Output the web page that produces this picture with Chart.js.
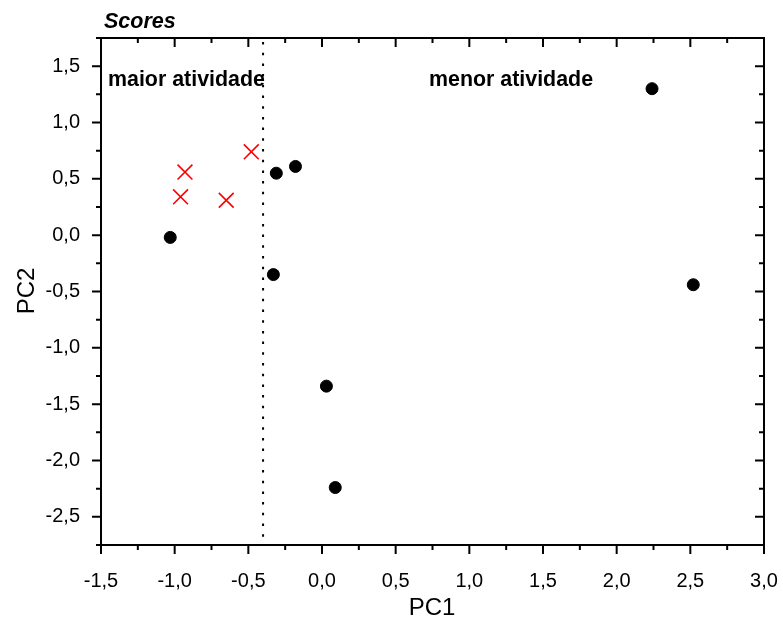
<!DOCTYPE html>
<html>
<head>
<meta charset="utf-8">
<script src="https://cdn.jsdelivr.net/npm/chart.js@4.4.0/dist/chart.umd.min.js"></script>
<style>
  html, body { margin: 0; padding: 0; background: #fff; }
  #wrap { width: 783px; height: 624px; }
</style>
</head>
<body>
<div id="wrap"><canvas id="grafico"></canvas></div>
<script>
// dados (PC1, PC2)
const pontosPretosX = [-1.03, -0.31, -0.18, -0.33, 0.03, 0.09, 2.24, 2.52];
const pontosPretosY = [-0.02, 0.55, 0.61, -0.35, -1.34, -2.24, 1.30, -0.44];
const cruzesX = [-0.48, -0.93, -0.96, -0.65];
const cruzesY = [0.74, 0.56, 0.34, 0.31];

const xTicks = [-1.5, -1.0, -0.5, 0.0, 0.5, 1.0, 1.5, 2.0, 2.5, 3.0];
const yTicks = [-2.5, -2.0, -1.5, -1.0, -0.5, 0.0, 0.5, 1.0, 1.5];
const limiteX = -0.4;

const fonte = "'Liberation Sans', Arial, sans-serif";

function virgula(v) {
    return v.toFixed(1).replace('.', ',');
}

// plugin para desenhar ticks, borda, linha pontilhada e textos
const extras = {
    id: 'extras',
    afterDraw(chart) {
        const ctx = chart.ctx;
        const a = chart.chartArea;
        const sx = chart.scales.x;
        const sy = chart.scales.y;
        ctx.save();

        // linha pontilhada
        const px = sx.getPixelForValue(limiteX);
        ctx.strokeStyle = '#000';
        ctx.lineWidth = 2;
        ctx.setLineDash([2.5, 8.2]);
        ctx.beginPath();
        ctx.moveTo(px, a.top + 4);
        ctx.lineTo(px, a.bottom);
        ctx.stroke();
        ctx.setLineDash([]);

        // borda
        ctx.lineWidth = 2;
        ctx.strokeRect(a.left, a.top, a.right - a.left, a.bottom - a.top);

        // ticks
        const maior = 9, menor = 5;
        ctx.beginPath();
        for (let v = -1.5; v <= 3.0001; v += 0.25) {
            const x = sx.getPixelForValue(v);
            const len = Math.abs(v * 2 - Math.round(v * 2)) < 0.01 ? maior : menor;
            ctx.moveTo(x, a.bottom); ctx.lineTo(x, a.bottom + len);
            ctx.moveTo(x, a.top); ctx.lineTo(x, a.top + len);
        }
        for (let v = -2.75; v <= 1.7501; v += 0.25) {
            const y = sy.getPixelForValue(v);
            const len = Math.abs(v * 2 - Math.round(v * 2)) < 0.01 ? maior : menor;
            ctx.moveTo(a.left, y); ctx.lineTo(a.left - len, y);
            ctx.moveTo(a.right, y); ctx.lineTo(a.right - len, y);
        }
        ctx.stroke();

        // textos
        ctx.fillStyle = '#000';
        ctx.textBaseline = 'alphabetic';
        ctx.textAlign = 'left';
        ctx.font = 'italic bold 21.5px ' + fonte;
        ctx.fillText('Scores', 104, 28);
        ctx.font = 'bold 21.4px ' + fonte;
        ctx.fillText('maior atividade', 108, 86);
        ctx.fillText('menor atividade', 429, 86);

        ctx.font = '24px ' + fonte;
        ctx.textAlign = 'center';
        ctx.textBaseline = 'middle';
        ctx.fillText('PC1', 432, 608);
        ctx.translate(27, 291);
        ctx.rotate(-Math.PI / 2);
        ctx.fillText('PC2', 0, 0);
        ctx.restore();
    }
};

new Chart(document.getElementById('grafico'), {
    type: 'scatter',
    data: {
        datasets: [{
            label: 'amostras',
            data: pontosPretosX.map((x, i) => ({ x: x, y: pontosPretosY[i] })),
            backgroundColor: '#000',
            borderColor: '#000',
            pointRadius: 6,
            pointHoverRadius: 6
        }, {
            label: 'referências',
            data: cruzesX.map((x, i) => ({ x: x, y: cruzesY[i] })),
            pointStyle: 'crossRot',
            borderColor: '#ff0000',
            borderWidth: 1.6,
            pointRadius: 10.5,
            pointHoverRadius: 10.5
        }]
    },
    options: {
        responsive: true,
        maintainAspectRatio: false,
        animation: false,
        layout: { padding: { left: 0, top: 38, right: 19, bottom: 0 } },
        plugins: {
            legend: { display: false },
            tooltip: { enabled: false }
        },
        scales: {
            x: {
                type: 'linear',
                min: -1.5,
                max: 3.0,
                grid: { display: false },
                border: { display: false },
                afterBuildTicks: s => { s.ticks = xTicks.map(v => ({ value: v })); },
                afterFit: s => { s.height = 79; s.paddingLeft = 0; s.paddingRight = 0; },
                ticks: {
                    color: '#000',
                    padding: 16,
                    font: { family: fonte, size: 20 },
                    callback: v => virgula(v)
                }
            },
            y: {
                type: 'linear',
                min: -2.75,
                max: 1.75,
                grid: { display: false },
                border: { display: false },
                afterBuildTicks: s => { s.ticks = yTicks.map(v => ({ value: v })); },
                afterFit: s => { s.width = 101; s.paddingTop = 0; s.paddingBottom = 0; },
                ticks: {
                    color: '#000',
                    padding: 13,
                    font: { family: fonte, size: 20 },
                    callback: v => virgula(v)
                }
            }
        }
    },
    plugins: [extras]
});
</script>
</body>
</html>
